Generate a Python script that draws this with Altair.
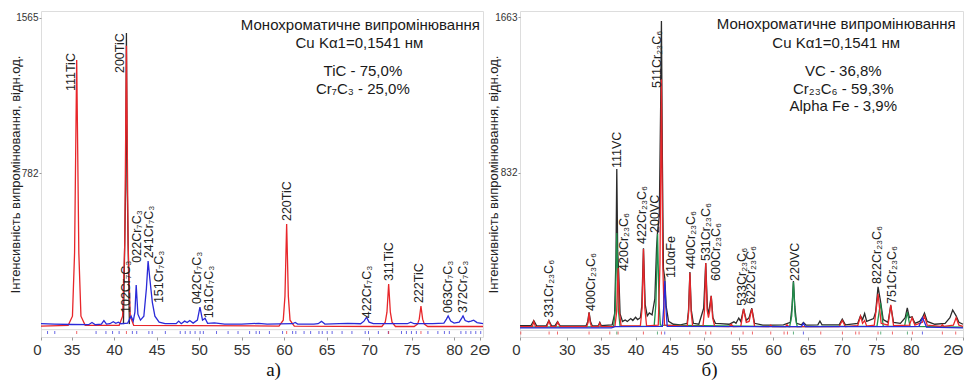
import altair as alt
import pandas as pd

SANS = "Liberation Sans, Arial, sans-serif"
SERIF = "Liberation Serif, Times New Roman, serif"
RED = "#e8262a"
BLUE = "#2a2ad8"
GREEN = "#1f8f4a"
BLACK = "#2b2b2b"
YTITLE = "Інтенсивність випромінювання, відн.од."

# ---------------- Panel а) : TiC + Cr7C3 ----------------
L_XDOM = [31.4, 83.4]
L_YDOM = [-45, 1600]
L_YTICKS = [782, 1565]
L_XTICKS = [31.4, 35, 40, 45, 50, 55, 60, 65, 70, 75, 80, 83.0]

L_OBS_X = [41.1, 41.35, 41.45, 41.55, 41.8]
L_OBS_Y = [20, 700, 1489, 700, 20]

L_TIC_X = [31.4, 34.6, 35.1, 35.35, 35.6, 35.85, 36.1, 36.6, 40.6, 41.0, 41.25, 41.45, 41.65, 41.9, 42.3,
           59.4, 59.9, 60.1, 60.3, 60.5, 60.7, 61.2, 71.5, 71.9, 72.1, 72.3, 72.5, 72.7, 73.1,
           75.3, 75.7, 75.9, 76.1, 76.3, 76.5, 76.9, 83.4]
L_TIC_Y = [10, 14, 60, 380, 1353, 380, 60, 14, 14, 60, 420, 1424, 420, 60, 14,
           10, 40, 160, 525, 160, 40, 10, 8, 30, 80, 222, 80, 30, 8,
           8, 20, 45, 111, 45, 20, 8, 8]

L_CR_X = [31.4, 33.0, 35.0, 37.0, 37.4, 37.8, 38.5, 38.8, 39.1, 39.5, 39.9, 40.2, 40.5, 40.8, 41.6, 42.0,
          42.25, 42.45, 42.6, 42.8, 43.1, 43.5, 43.8, 44.0, 44.2, 44.5, 44.8, 45.3, 46.0, 47.3, 47.6, 47.9,
          48.3, 48.6, 48.9, 49.3, 49.8, 50.1, 50.4, 50.7, 51.0, 51.8, 53.0, 55.0, 57.0, 58.0, 61.0, 61.3,
          61.6, 63.5, 64.0, 64.4, 64.8, 66.5, 67.5, 69.0, 69.4, 69.7, 70.0, 70.5, 72.0, 74.5, 74.9, 75.3,
          77.5, 78.8, 79.1, 79.3, 79.6, 80.0, 80.6, 80.9, 81.05, 81.3, 81.7, 82.0, 82.3, 82.7, 83.4]
L_CR_Y = [22, 20, 18, 17, 28, 17, 20, 38, 20, 22, 32, 24, 30, 22, 25, 61,
          35, 80, 217, 70, 40, 60, 200, 338, 250, 130, 60, 30, 22, 22, 35, 22,
          35, 28, 38, 25, 40, 106, 40, 50, 24, 26, 20, 20, 24, 20, 22, 28,
          20, 20, 22, 34, 20, 22, 24, 22, 35, 55, 30, 22, 22, 22, 30, 22,
          22, 25, 45, 61, 35, 25, 30, 50, 61, 38, 32, 35, 40, 28, 22]

L_BRAGG_TIC = [35.6, 41.45, 60.3, 72.3, 76.1]
L_BRAGG_CR = [32.17, 33.02, 37.88, 39.04, 39.82, 40.59, 42.15, 42.66, 44.09, 44.48, 46.03, 47.78, 48.37,
              48.95, 49.53, 50.12, 50.5, 52.05, 53.41, 54.58, 55.94, 56.71, 57.1, 58.27, 59.82, 61.0,
              61.38, 62.35, 63.12, 64.1, 64.49, 65.07, 65.65, 66.82, 67.98, 69.54, 69.93, 71.09, 72.26,
              73.81, 74.39, 74.98, 75.56, 76.92, 78.09, 78.86, 79.44, 80.8, 81.39, 81.97, 82.55, 83.13]

L_LAB_TEXT = ["111TiC", "200TiC", "102Cr₇C₃", "022Cr₇C₃", "241Cr₇C₃", "151Cr₇C₃", "042Cr₇C₃",
              "161Cr₇C₃", "220TiC", "422Cr₇C₃", "311TiC", "222TiC", "063Cr₇C₃", "372Cr₇C₃"]
L_LAB_X = [34.88, 40.65, 41.41, 42.69, 44.09, 45.26, 49.80, 51.20, 60.29, 69.73, 72.30, 75.91, 79.29, 81.04]
L_LAB_Y = [1196, 1287, 76, 330, 353, 126, 121, 50, 540, 50, 237, 126, 76, 76]

L_ANN_TEXT = ["Монохроматичне випромінювання", "Cu Kα1=0,1541 нм", "TiC - 75,0%", "Cr₇C₃ - 25,0%"]
L_ANN_X = [68.97, 68.86, 69.27, 69.27]
L_ANN_Y = [1529, 1439, 1297, 1206]

# ---------------- Panel б) : VC + Cr23C6 + alpha-Fe ----------------
R_XDOM = [23.2, 87.6]
R_YDOM = [-43, 1695]
R_YTICKS = [832, 1663]
R_XTICKS = [23.2, 30, 35, 40, 45, 50, 55, 60, 65, 70, 75, 80, 87.6]

R_OBS_X = [23.2, 24.8, 25.2, 25.6, 27.0, 27.4, 27.8, 28.3, 28.65, 29.0, 32.8, 33.05, 33.24, 33.45, 33.7,
           34.6, 34.8, 35.0, 36.6, 36.95, 37.15, 37.27, 37.4, 37.55, 37.75, 38.1, 38.5, 38.8, 39.3, 39.6,
           40.0, 40.3, 40.7, 40.9, 41.15, 41.4, 41.7, 42.0, 42.4, 42.8, 43.05, 43.2, 43.45, 43.65, 43.76,
           43.9, 44.05, 44.25, 44.45, 44.8, 45.5, 46.5, 47.5, 47.7, 47.9, 48.1, 48.4, 49.2, 49.9, 50.2,
           50.45, 50.6, 51.0, 51.25, 51.6, 52.3, 53.6, 54.3, 54.6, 55.0, 55.3, 55.7, 56.1, 56.5, 56.9,
           57.3, 58.5, 60.0, 61.5, 62.5, 62.75, 62.95, 63.15, 63.4, 64.1, 64.4, 64.8, 66.5, 66.8, 67.1,
           69.6, 70.05, 70.5, 72.3, 72.7, 73.0, 73.3, 73.6, 74.6, 74.9, 75.25, 75.6, 76.0, 76.7, 77.1,
           77.5, 78.5, 79.2, 79.5, 79.8, 80.2, 80.6, 81.3, 81.7, 82.0, 82.4, 83.5, 85.0, 85.7, 86.1,
           86.6, 87.0, 87.6]
R_OBS_Y = [18, 18, 45, 18, 16, 45, 16, 18, 38, 18, 16, 40, 88, 40, 16,
           18, 35, 18, 22, 80, 380, 853, 420, 300, 80, 40, 48, 40, 55, 45,
           62, 50, 60, 120, 430, 130, 70, 85, 75, 160, 430, 520, 600, 1200, 1642,
           900, 320, 270, 120, 40, 25, 22, 30, 100, 304, 100, 30, 25, 110, 352,
           110, 80, 176, 60, 30, 28, 25, 38, 30, 58, 40, 107, 45, 60, 110,
           30, 20, 20, 22, 35, 120, 255, 120, 30, 22, 35, 20, 22, 42, 22,
           22, 52, 22, 30, 70, 50, 82, 40, 55, 90, 224, 150, 50, 35, 125,
           35, 30, 60, 112, 60, 65, 30, 40, 60, 85, 40, 25, 30, 60, 101,
           70, 35, 25]

R_CR_X = [23.2, 25.0, 25.2, 25.45, 27.1, 27.4, 27.7, 28.4, 28.7, 29.0, 32.9, 33.1, 33.24, 33.4, 33.6,
          34.6, 34.8, 35.0, 37.0, 37.25, 37.46, 37.65, 37.9, 40.7, 40.95, 41.15, 41.35, 41.6, 43.3, 43.55,
          43.76, 43.95, 44.2, 47.5, 47.72, 47.9, 48.08, 48.3, 49.8, 50.02, 50.2, 50.4, 50.6, 50.8, 51.0,
          51.2, 51.5, 53.6, 53.9, 54.2, 55.3, 55.7, 56.1, 56.5, 56.9, 57.3, 59.4, 59.65, 59.9, 61.8,
          62.0, 62.3, 69.6, 70.05, 70.5, 72.3, 72.7, 73.0, 73.3, 73.6, 74.7, 75.25, 75.7, 76.7, 77.1,
          77.5, 79.8, 80.2, 80.6, 81.7, 82.0, 82.4, 84.4, 84.6, 84.8, 86.2, 86.6, 87.0, 87.6]
R_CR_Y = [12, 12, 40, 12, 12, 43, 12, 12, 37, 12, 12, 35, 87, 35, 12,
          12, 30, 12, 14, 90, 325, 90, 16, 16, 110, 426, 110, 16, 20, 350,
          1333, 350, 20, 14, 90, 300, 90, 14, 14, 100, 352, 100, 60, 100, 176,
          60, 14, 12, 25, 12, 14, 107, 35, 40, 107, 14, 12, 20, 12, 12,
          22, 12, 12, 45, 12, 18, 68, 30, 45, 15, 20, 187, 30, 20, 128,
          18, 20, 60, 20, 35, 70, 20, 14, 22, 14, 20, 60, 20, 14]

R_VC_X = [23.2, 36.8, 37.05, 37.27, 37.5, 37.75, 42.7, 42.95, 43.2, 43.4, 43.6, 62.4, 62.7, 62.95, 63.2,
          63.5, 75.1, 75.6, 76.0, 79.1, 79.5, 79.9, 87.6]
R_VC_Y = [10, 12, 100, 512, 100, 14, 14, 130, 506, 150, 20, 12, 70, 250, 70,
          12, 15, 139, 15, 14, 90, 14, 10]

R_FE_X = [23.2, 36.5, 37.0, 43.9, 44.1, 44.25, 44.4, 44.6, 64.1, 64.4, 64.7, 80.0, 81.2, 81.5, 81.7,
          81.95, 82.3, 87.6]
R_FE_Y = [6, 6, 12, 14, 120, 256, 120, 14, 12, 30, 12, 12, 14, 40, 60,
          40, 10, 6]

R_BRAGG_CR = [23.31, 27.43, 28.65, 33.24, 36.25, 37.46, 41.14, 43.76, 47.88, 50.2, 50.93, 53.93, 55.63,
              56.99, 59.65, 61.59, 62.08, 66.92, 70.07, 72.0, 72.49, 75.25, 77.34, 80.24, 84.6, 86.54]
R_BRAGG_VC = [37.27, 43.18, 62.95, 75.64, 79.52]
R_BRAGG_FE = [44.24, 64.4, 81.7]

R_LAB_TEXT = ["331Cr₂₃C₆", "400Cr₂₃C₆", "111VC", "420Cr₂₃C₆", "422Cr₂₃C₆", "200VC", "511Cr₂₃C₆",
              "110αFe", "440Cr₂₃C₆", "531Cr₂₃C₆", "600Cr₂₃C₆", "533Cr₂₃C₆", "622Cr₂₃C₆", "220VC",
              "822Cr₂₃C₆", "751Cr₂₃C₆"]
R_LAB_X = [27.43, 33.49, 37.36, 38.33, 41.0, 42.84, 43.18, 45.1, 48.02, 50.2, 51.66, 55.54, 56.85,
           63.14, 75.16, 77.24]
R_LAB_Y = [59, 96, 858, 309, 453, 512, 1285, 272, 320, 362, 256, 123, 133, 256, 240, 133]

R_ANN_TEXT = ["Монохроматичне випромінювання", "Cu Kα1=0,1541 нм", "VC - 36,8%", "Cr₂₃C₆ - 59,3%",
              "Alpha Fe - 3,9%"]
R_ANN_X = [69.17, 69.17, 70.19, 70.19, 70.19]
R_ANN_Y = [1626, 1524, 1375, 1279, 1188]


def df_xy(xs, ys):
    assert len(xs) == len(ys), (len(xs), len(ys))
    return pd.DataFrame({"x": xs, "y": ys})


def panel(xdom, ydom, xticks, yticks, lo_cut, hi_cut, right_test, caption, cap_x, width, height,
          lines, braggs, lab, ann, ytitle_x, ytitle_size):
    xs = alt.Scale(domain=xdom, nice=False, zero=False)
    ys = alt.Scale(domain=ydom, nice=False, zero=False)
    xaxis = alt.Axis(
        values=xticks,
        labelExpr=f"datum.value < {lo_cut} ? '0' : (datum.value > {hi_cut} ? '2Θ' : datum.label)",
        labelFlush=False, labelOverlap=False,
        labelAlign={"condition": {"test": right_test, "value": "right"}, "value": "center"},
        labelFont=SANS, labelFontSize=15, labelColor="#333", labelPadding=2,
        tickSize=3, tickColor="#999", domain=False, grid=False,
        title=caption, titleFont=SERIF, titleFontSize=19, titleFontWeight="normal", titleColor="#111",
        titleX=cap_x, titleY=32, titleAlign="center", titleBaseline="middle",
    )
    yaxis = alt.Axis(
        values=yticks, format="d", labelFont=SANS, labelFontSize=10, labelColor="#333", labelPadding=1,
        tickSize=2, tickColor="#999", domain=False, grid=False,
        title=YTITLE, titleFont=SANS, titleFontSize=ytitle_size, titleFontWeight="normal",
        titleColor="#222", titleX=ytitle_x, titleBaseline="bottom",
    )
    X = alt.X("x:Q", scale=xs, axis=xaxis)
    Y = alt.Y("y:Q", scale=ys, axis=yaxis)
    layers = []
    for xs_, ys_, color in lines:
        layers.append(alt.Chart(df_xy(xs_, ys_)).mark_line(color=color, strokeWidth=1.3).encode(x=X, y=Y))
    layers.append(alt.Chart(pd.DataFrame({"x": [xdom[0]]})).mark_rule(color="#d8d8d8", strokeWidth=1)
                  .encode(y=alt.Y(datum=-8, scale=ys, axis=yaxis)))
    for pos, color in braggs:
        layers.append(alt.Chart(pd.DataFrame({"x": pos})).mark_tick(color=color, orient="vertical",
                                                                   size=3, thickness=1, opacity=0.7)
                      .encode(x=X, y=alt.Y(datum=-22, scale=ys, axis=yaxis)))
    lt, lx, ly = lab
    layers.append(alt.Chart(pd.DataFrame({"x": lx, "y": ly, "t": lt}))
                  .mark_text(angle=270, align="left", baseline="middle", font=SANS, fontSize=12.5,
                             color="#222")
                  .encode(x=X, y=Y, text="t:N"))
    at, ax, ay = ann
    layers.append(alt.Chart(pd.DataFrame({"x": ax, "y": ay, "t": at}))
                  .mark_text(align="center", baseline="middle", font=SANS, fontSize=15, color="#1a1a1a")
                  .encode(x=X, y=Y, text="t:N"))
    return alt.layer(*layers).properties(width=width, height=height)


left = panel(L_XDOM, L_YDOM, L_XTICKS, L_YTICKS, 32, 82.5, "datum.value < 32", "а)", 232, 442, 326,
             [(L_OBS_X, L_OBS_Y, BLACK), (L_TIC_X, L_TIC_Y, RED), (L_CR_X, L_CR_Y, BLUE)],
             [(L_BRAGG_CR, BLUE), (L_BRAGG_TIC, RED)],
             (L_LAB_TEXT, L_LAB_X, L_LAB_Y), (L_ANN_TEXT, L_ANN_X, L_ANN_Y), -19, 13)

right = panel(R_XDOM, R_YDOM, R_XTICKS, R_YTICKS, 24, 86, "datum.value < 24 || datum.value > 86",
              "б)", 189, 443, 326,
              [(R_OBS_X, R_OBS_Y, BLACK), (R_VC_X, R_VC_Y, GREEN), (R_CR_X, R_CR_Y, RED),
               (R_FE_X, R_FE_Y, BLUE)],
              [(R_BRAGG_CR, RED), (R_BRAGG_VC, GREEN), (R_BRAGG_FE, BLUE)],
              (R_LAB_TEXT, R_LAB_X, R_LAB_Y), (R_ANN_TEXT, R_ANN_X, R_ANN_Y), -20, 13)

chart = (alt.hconcat(left, right, spacing=37, bounds="flush")
         .properties(padding={"left": 0, "top": 2, "right": 0, "bottom": 0})
         .configure_view(stroke="#9a9a9a", strokeWidth=1)
         .configure(background="white"))

chart.save("out.html", embed_options={"renderer": "svg", "actions": False})
